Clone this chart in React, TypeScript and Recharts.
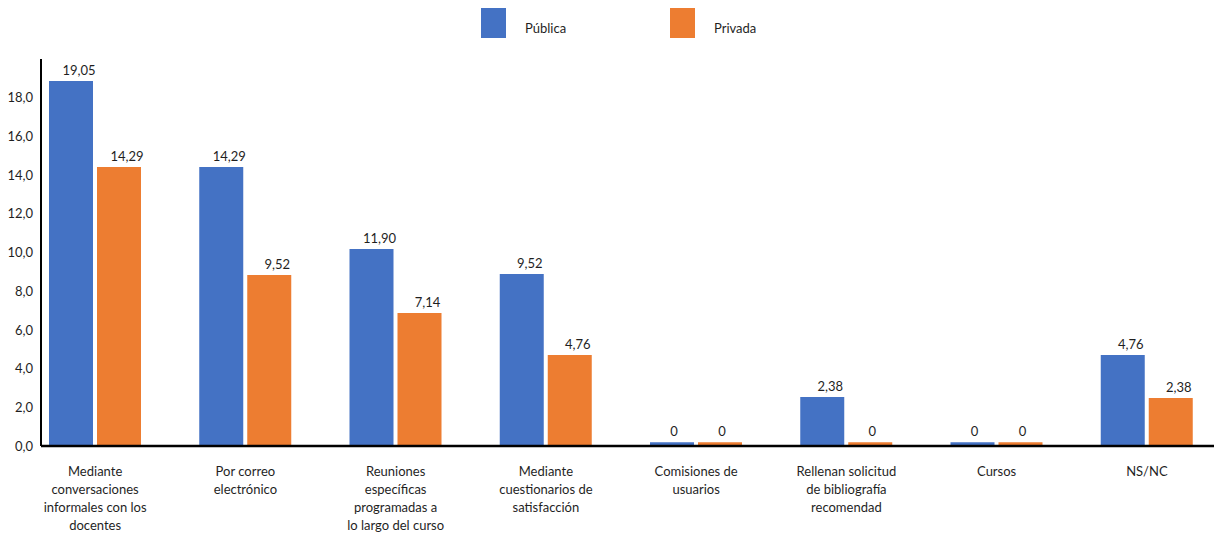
import React from 'react'
import { Bar, BarChart, LabelList, Legend, XAxis, YAxis } from 'recharts'

const categories = [
  'Mediante\nconversaciones\ninformales con los\ndocentes',
  'Por correo\nelectrónico',
  'Reuniones\nespecíficas\nprogramadas a\nlo largo del curso',
  'Mediante\ncuestionarios de\nsatisfacción',
  'Comisiones de\nusuarios',
  'Rellenan solicitud\nde bibliografía\nrecomendad',
  'Cursos',
  'NS/NC',
]

const seriesNames = ['Pública', 'Privada']

// bar heights as drawn in the picture
const publica = [18.86, 14.42, 10.18, 8.89, 0.2, 2.53, 0.2, 4.7]
const privada = [14.42, 8.84, 6.87, 4.7, 0.2, 0.2, 0.2, 2.48]

// the value labels printed above the bars
const publicaLabels = ['19,05', '14,29', '11,90', '9,52', '0', '2,38', '0', '4,76']
const privadaLabels = ['14,29', '9,52', '7,14', '4,76', '0', '0', '0', '2,38']

const yTicks = [0, 2, 4, 6, 8, 10, 12, 14, 16, 18]

const COLORS = {
  publica: '#4472C4',
  privada: '#ED7D31',
  text: '#1f1f1f',
}

const data = categories.map((category, i) => ({
  category,
  publica: publica[i],
  privada: privada[i],
}))

function CategoryTick({ x, y, payload }: any) {
  const lines = String(payload.value).split('\n')
  return (
    <text x={x} y={y} textAnchor="middle" fill={COLORS.text} fontSize={13}>
      {lines.map((line, i) => (
        <tspan key={i} x={x} dy={i === 0 ? 21.5 : 18.3}>
          {line}
        </tspan>
      ))}
    </text>
  )
}

function makeValueLabel(labels: string[]) {
  return (props: any) => {
    const { x, y, width, index } = props
    const text = labels[index]
    const dx = text.length > 1 ? 8 : 2
    return (
      <text
        x={Number(x) + Number(width) / 2 + dx}
        y={Number(y) - 6}
        textAnchor="middle"
        fill={COLORS.text}
        fontSize={13}
      >
        {text}
      </text>
    )
  }
}

function LegendContent({ payload }: any) {
  const items = [...(payload || [])].sort(
    (a: any, b: any) => seriesNames.indexOf(a.value) - seriesNames.indexOf(b.value)
  )
  return (
    <div style={{ position: 'relative', width: 1214, height: 40 }}>
      {items.map((entry: any, i: number) => (
        <div key={entry.value} style={{ position: 'absolute', left: 481 + i * 189, top: 8 }}>
          <div style={{ width: 25, height: 30, background: entry.color }} />
          <span
            style={{
              position: 'absolute',
              left: 44,
              top: 12,
              fontSize: 13,
              lineHeight: '16px',
              whiteSpace: 'nowrap',
              color: COLORS.text,
            }}
          >
            {entry.value}
          </span>
        </div>
      ))}
    </div>
  )
}

export default function App() {
  return (
    <div style={{ position: 'absolute', left: 0, top: 0, fontFamily: 'Lato, sans-serif' }}>
      <BarChart
        width={1214}
        height={534}
        data={data}
        margin={{ top: 59, right: 0, bottom: 0, left: 0 }}
        barGap={4}
        barSize={44}
      >
        <XAxis
          dataKey="category"
          height={88}
          interval={0}
          padding={{ left: -21, right: -8 }}
          axisLine={{ stroke: '#000', strokeWidth: 2.5 }}
          tickLine={false}
          tick={<CategoryTick />}
        />
        <YAxis
          width={41}
          domain={[0, 20]}
          ticks={yTicks}
          interval={0}
          tickFormatter={(v: number) => v.toFixed(1).replace('.', ',')}
          axisLine={{ stroke: '#000', strokeWidth: 2 }}
          tickLine={false}
          tick={{ fill: COLORS.text, fontSize: 13 }}
        />
        <Legend
          layout="horizontal"
          align="center"
          verticalAlign="middle"
          wrapperStyle={{ top: 0, left: 0, width: 1214 }}
          content={<LegendContent />}
        />
        <Bar dataKey="publica" name={seriesNames[0]} fill={COLORS.publica} isAnimationActive={false}>
          <LabelList dataKey="publica" content={makeValueLabel(publicaLabels)} />
        </Bar>
        <Bar dataKey="privada" name={seriesNames[1]} fill={COLORS.privada} isAnimationActive={false}>
          <LabelList dataKey="privada" content={makeValueLabel(privadaLabels)} />
        </Bar>
      </BarChart>
    </div>
  )
}
